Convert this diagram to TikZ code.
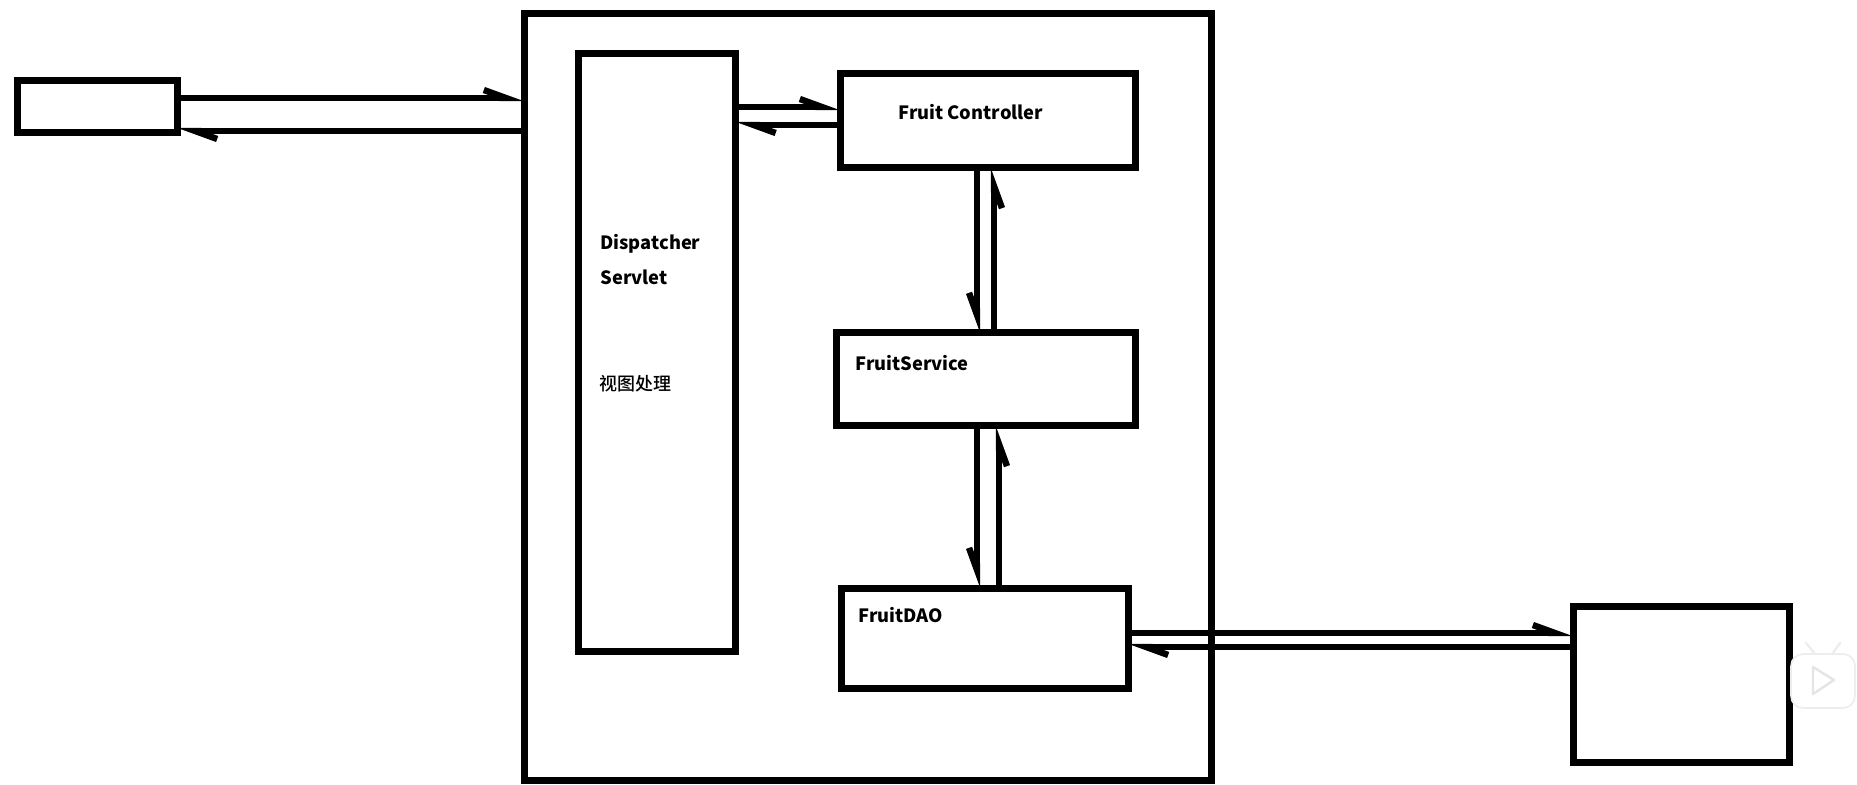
\documentclass[tikz,border=0pt]{standalone}
\usepackage{fontspec}
\setmainfont{Noto Sans CJK SC}
\newfontfamily\viewfont{Noto Sans CJK SC Medium}
\usetikzlibrary{arrows.meta}
\tikzset{
  box/.style={draw=black, line width=3.5pt, rectangle, inner sep=0pt, outer sep=0pt},
  linkleft/.style={draw=black, line width=3.3pt, -{Straight Barb[harpoon, length=11pt, width=8pt, line width=3.2pt]}},
  linkright/.style={draw=black, line width=3.3pt, -{Straight Barb[harpoon, swap, length=11pt, width=8pt, line width=3.2pt]}},
  label/.style={anchor=base west, inner sep=0pt, font=\fontsize{9.15}{12}\selectfont\bfseries},
}
\begin{document}
\begin{tikzpicture}[x=0.5pt, y=-0.5pt]
  \useasboundingbox (0,0) rectangle (1857,785);

  % Boxes
  \node[box, minimum width=80pt, minimum height=26pt] (client) at (97,107) {};
  \node[box, minimum width=343.5pt, minimum height=383pt] (app) at (867.5,397) {};
  \node[box, minimum width=78.5pt, minimum height=299pt] (dispatcher) at (657,352.5) {};
  \node[box, minimum width=147.5pt, minimum height=47pt] (controller) at (987.5,121) {};
  \node[box, minimum width=149.5pt, minimum height=46.5pt] (service) at (985.5,379.5) {};
  \node[box, minimum width=143.5pt, minimum height=50pt] (dao) at (984.5,638) {};
  \node[box, minimum width=108pt, minimum height=78pt] (db) at (1681,684) {};

  % Labels
  \node[label] (dispatcherA) at (600,250) {Dispatcher};
  \node[label] (dispatcherB) at (600,285) {Servlet};
  \node[label, font=\fontsize{9}{12}\viewfont] (view) at (599,390.5) {视图处理};
  \node[label] (controllerT) at (898,119.5) {Fruit Controller};
  \node[label] (serviceT) at (855,370.5) {FruitService};
  \node[label] (daoT) at (858,622.5) {FruitDAO};

  % Connector rows and columns
  \coordinate (toApp) at (0,98);
  \coordinate (fromApp) at (0,131);
  \coordinate (toCtrl) at (0,107);
  \coordinate (fromCtrl) at (0,125);
  \coordinate (downA) at (977,0);
  \coordinate (upA) at (994,0);
  \coordinate (downB) at (977,0);
  \coordinate (upB) at (999,0);
  \coordinate (toDb) at (0,633);
  \coordinate (fromDb) at (0,647);

  % Connectors
  \draw[linkleft] (client.east |- toApp) -- (app.west |- toApp);
  \draw[linkleft] (app.west |- fromApp) -- (client.east |- fromApp);
  \draw[linkleft] (dispatcher.east |- toCtrl) -- (controller.west |- toCtrl);
  \draw[linkleft] (controller.west |- fromCtrl) -- (dispatcher.east |- fromCtrl);
  \draw[linkright] (controller.south -| downA) -- (service.north -| downA);
  \draw[linkright] (service.north -| upA) -- (controller.south -| upA);
  \draw[linkright] (service.south -| downB) -- (dao.north -| downB);
  \draw[linkright] (dao.north -| upB) -- (service.south -| upB);
  \draw[linkleft] (dao.east |- toDb) -- (db.west |- toDb);
  \draw[linkleft] (db.west |- fromDb) -- (dao.east |- fromDb);

  % Corner icon
  \draw[gray!14, fill=white, line width=0.8pt, rounded corners=6pt] (1791,654) rectangle (1855,708);
  \draw[gray!14, line width=1.2pt, line cap=round] (1806,643) -- (1815,654) (1840,643) -- (1832,654);
  \draw[gray!20, line width=1.2pt, line join=round] (1813,667) -- (1834,680) -- (1813,694) -- cycle;
\end{tikzpicture}
\end{document}
